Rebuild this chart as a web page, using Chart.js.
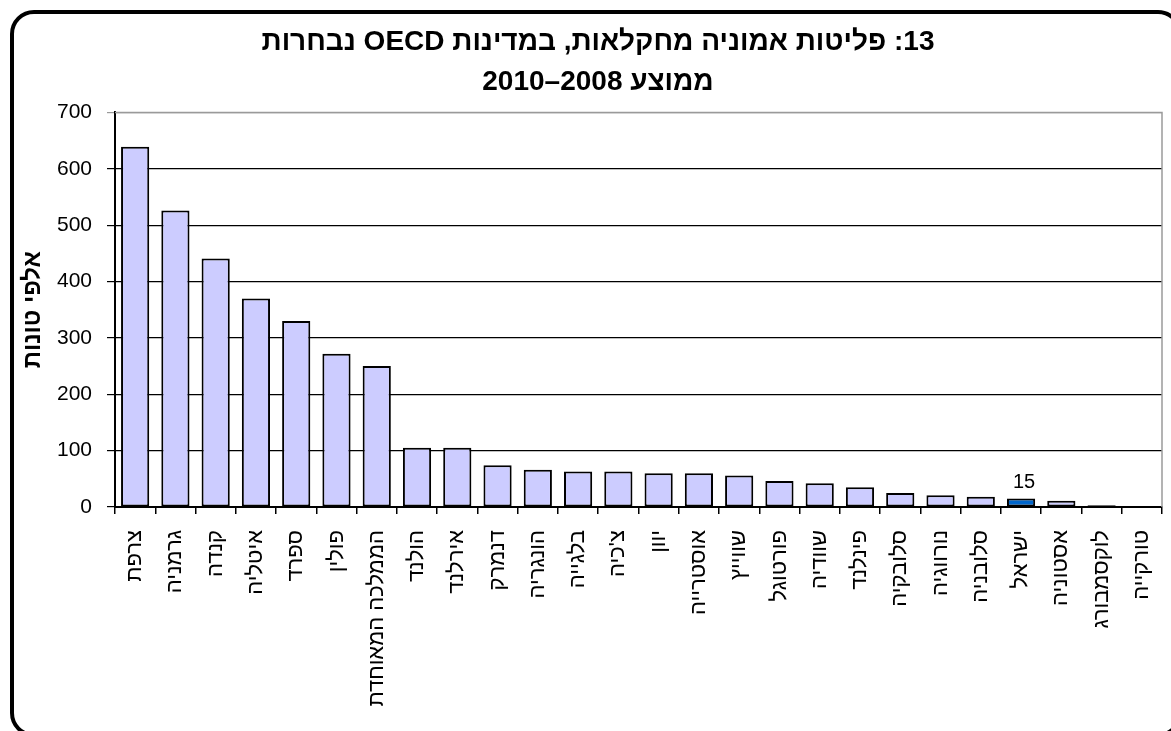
<!DOCTYPE html>
<html lang="he">
<head>
<meta charset="utf-8">
<title>פליטות אמוניה מחקלאות</title>
<script src="https://cdn.jsdelivr.net/npm/chart.js@4/dist/chart.umd.min.js"></script>
<style>
  html, body { margin: 0; padding: 0; background: #fff; overflow: hidden; }
  #wrap { position: relative; width: 1171px; height: 731px; overflow: hidden; }
  #frame {
    position: absolute; left: 10px; top: 10px; width: 1172px; height: 727px;
    border: 4px solid #000; border-radius: 24px; box-sizing: border-box;
  }
  #chart { position: absolute; left: 0; top: 0; }
</style>
</head>
<body>
<div id="wrap">
  <div id="frame"></div>
  <canvas id="chart" dir="rtl" width="1171" height="731"></canvas>
</div>
<script>
// data (thousand tonnes, 2008-2010 average)
const titleLines = ["13: פליטות אמוניה מחקלאות, במדינות OECD נבחרות", "ממוצע 2008–2010"];
const yAxisTitle = "אלפי טונות";
const countries = [
  "צרפת", "גרמניה", "קנדה", "איטליה", "ספרד", "פולין", "הממלכה המאוחדת",
  "הולנד", "אירלנד", "דנמרק", "הונגריה", "בלגייה", "צ'כיה", "יוון",
  "אוסטרייה", "שווייץ", "פורטוגל", "שוודיה", "פינלנד", "סלובקיה",
  "נורווגיה", "סלובניה", "ישראל", "אסטוניה", "לוקסמבורג", "טורקייה"
];
const emissions = [
  639, 526, 441, 370, 330, 272, 250,
  105, 105, 74, 66, 63, 63, 60,
  60, 56, 46, 42, 35, 25,
  21, 18, 15, 11, 3, 0
];
const yTicks = [0, 100, 200, 300, 400, 500, 600, 700];
const labelledCountry = "ישראל";

const FONT = "'Liberation Sans', Arial, sans-serif";
const barColors = countries.map((c) => (c === labelledCountry ? "#0066cc" : "#ccccff"));

// value label above the highlighted bar
const valueLabel = {
  id: "valueLabel",
  afterDatasetsDraw(chart) {
    const ctx = chart.ctx;
    const i = countries.indexOf(labelledCountry);
    const bar = chart.getDatasetMeta(0).data[i];
    ctx.save();
    ctx.font = "20px " + FONT;
    ctx.fillStyle = "#000";
    ctx.textAlign = "center";
    ctx.textBaseline = "bottom";
    ctx.fillText(String(emissions[i]), bar.x + 3, bar.y - 6);
    ctx.restore();
  },
};

// grey top/right edge of the plot area
const plotEdge = {
  id: "plotEdge",
  beforeDatasetsDraw(chart) {
    const { ctx, chartArea } = chart;
    ctx.save();
    ctx.strokeStyle = "#9a9a9a";
    ctx.lineWidth = 1.5;
    ctx.beginPath();
    ctx.moveTo(chartArea.left, chartArea.top);
    ctx.lineTo(chartArea.right, chartArea.top);
    ctx.lineTo(chartArea.right, chartArea.bottom);
    ctx.stroke();
    ctx.restore();
  },
};

new Chart(document.getElementById("chart"), {
  type: "bar",
  data: {
    labels: countries,
    datasets: [
      {
        data: emissions,
        backgroundColor: barColors,
        borderColor: "#000",
        borderWidth: 2,
        borderSkipped: false,
        barPercentage: 0.7,
        categoryPercentage: 1,
      },
    ],
  },
  options: {
    responsive: false,
    animation: false,
    devicePixelRatio: 1,
    layout: { padding: { left: 34, right: 9, top: 0, bottom: 0 } },
    plugins: {
      legend: { display: false },
      tooltip: { enabled: false },
      title: {
        display: true,
        text: titleLines,
        color: "#000",
        font: { family: FONT, size: 28, weight: "bold", lineHeight: 1.4 },
        padding: { top: 23, bottom: 11 },
      },
    },
    scales: {
      x: {
        ticks: {
          color: "#000",
          font: { family: FONT, size: 22 },
          maxRotation: 90,
          minRotation: 90,
          autoSkip: false,
          padding: 16,
        },
        grid: {
          drawOnChartArea: false,
          color: "#000",
          lineWidth: 1.5,
          tickLength: 7,
        },
        border: { color: "#000", width: 2 },
        afterFit(scale) {
          scale.height = 224;
          scale.paddingLeft = 0;
          scale.paddingRight = 0;
        },
      },
      y: {
        min: 0,
        max: 700,
        afterBuildTicks(scale) {
          scale.ticks = yTicks.map((v) => ({ value: v }));
        },
        ticks: {
          color: "#000",
          font: { family: FONT, size: 21 },
          padding: 15,
        },
        grid: {
          color: (c) => (c.tick && c.tick.value === 700 ? "#9a9a9a" : "#000"),
          lineWidth: 1.2,
          tickLength: 8,
        },
        border: { color: "#000", width: 2 },
        title: {
          display: true,
          text: yAxisTitle,
          color: "#000",
          font: { family: FONT, size: 24, weight: "bold", lineHeight: 1 },
          padding: { top: -13, bottom: 0 },
        },
        afterFit(scale) {
          scale.width = 81;
        },
      },
    },
  },
  plugins: [plotEdge, valueLabel],
});
</script>
</body>
</html>
